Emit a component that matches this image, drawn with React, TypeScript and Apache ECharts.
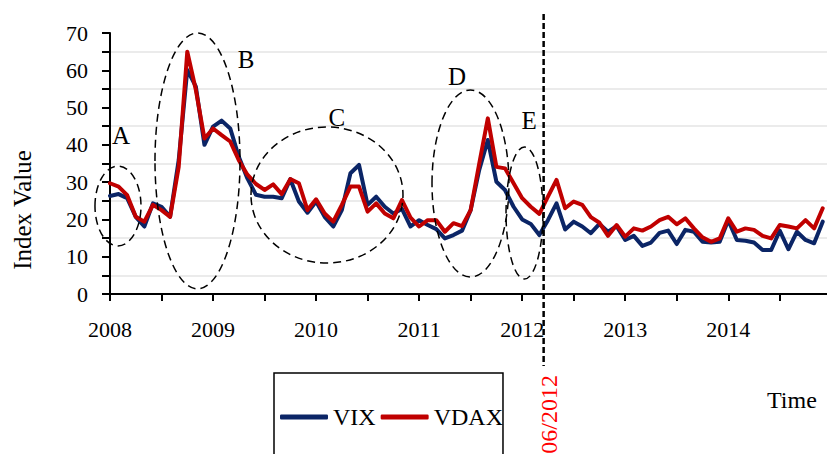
import React, { useEffect, useRef } from "react";
import * as echarts from "echarts";

// Monthly values, Jan 2008 .. Dec 2014 (84 months)
const yearLabels = ["2008", "2009", "2010", "2011", "2012", "2013", "2014"];
const seriesNames = ["VIX", "VDAX"];

const vix = [
  26.3, 26.8, 25.7, 20.7, 18.1, 24.3, 23.4, 20.7, 35.9, 60.1, 55.6, 40.0,
  44.9, 46.5, 44.4, 36.8, 31.0, 26.6, 26.1, 26.1, 25.7, 30.8, 24.8, 21.8,
  24.8, 20.7, 18.1, 22.5, 32.4, 34.6, 23.9, 26.1, 23.4, 21.6, 22.8, 18.1,
  19.8, 18.5, 17.4, 14.9, 15.8, 17.0, 22.5, 33.3, 41.3, 30.1, 27.9, 23.4,
  20.0, 18.8, 15.8, 19.8, 24.3, 17.3, 19.4, 18.1, 16.3, 18.8, 16.7, 18.2,
  14.5, 15.6, 12.9, 13.8, 16.4, 17.0, 13.4, 17.2, 16.7, 14.0, 13.8, 14.0,
  19.8, 14.5, 14.3, 13.8, 11.8, 11.8, 17.0, 12.0, 16.7, 14.5, 13.6, 19.4,
];

const vdax = [
  29.7, 28.8, 26.5, 20.7, 19.4, 23.9, 22.5, 20.7, 34.1, 65.0, 54.7, 41.7,
  44.4, 42.6, 40.9, 35.9, 32.0, 29.5, 27.9, 29.4, 26.8, 30.8, 29.7, 22.5,
  25.4, 21.6, 19.4, 23.9, 28.8, 28.8, 22.1, 24.3, 21.6, 20.3, 25.2, 20.5,
  18.1, 19.8, 19.8, 16.7, 19.0, 18.2, 22.5, 35.0, 47.1, 34.1, 33.7, 29.7,
  25.7, 23.4, 21.5, 26.1, 30.6, 23.0, 24.8, 23.9, 20.6, 19.1, 15.6, 18.5,
  15.4, 17.6, 17.0, 18.1, 19.8, 20.7, 18.7, 20.3, 17.6, 15.2, 14.0, 14.9,
  20.3, 16.7, 17.6, 17.2, 15.6, 14.9, 18.5, 18.1, 17.6, 19.8, 17.6, 23.0,
];

// Annotation ellipses in data coordinates
const ellipseLabels = ["A", "B", "C", "D", "E"];
const ellipseCenterMonth = [0.93, 10.19, 25.27, 41.98, 48.27];
const ellipseCenterValue = [23.6, 35.7, 26.55, 29.64, 21.72];
const ellipseHalfMonths = [2.68, 4.95, 8.85, 4.48, 2.15];
const ellipseHalfValue = [10.7, 34.3, 18.24, 25.08, 17.7];
const labelMonth = [1.28, 15.84, 26.43, 40.41, 48.8];
const labelValue = [42.6, 63.0, 47.47, 58.2, 46.4];

const breakMonth = 50.5;
const breakLabel = "06/2012";

const FONT = "Liberation Serif";
const BLUE = "#0b2566";
const RED = "#c00000";

export default function App() {
  const ref = useRef<HTMLDivElement>(null);

  useEffect(() => {
    if (!ref.current) return;
    const chart = echarts.init(ref.current, undefined, { renderer: "svg" });
    chart.setOption({
      animation: false,
      backgroundColor: "#ffffff",
      textStyle: { fontFamily: FONT },
      grid: { left: 110, right: 0, top: 33, bottom: 160 },
      legend: {
        data: seriesNames,
        left: 274,
        top: 373,
        orient: "horizontal",
        icon: "roundRect",
        itemWidth: 48,
        itemHeight: 5,
        itemGap: 5,
        borderColor: "#000",
        borderWidth: 1.5,
        borderRadius: 0,
        padding: [32, 0, 60, 6],
        textStyle: { fontSize: 24, fontFamily: FONT, color: "#000", lineHeight: 24 },
      },
      xAxis: {
        type: "value",
        min: 0,
        max: 83.5,
        interval: 6,
        axisLine: { show: true, lineStyle: { color: "#000", width: 2 } },
        axisTick: { show: true, length: 7, lineStyle: { color: "#000", width: 2 } },
        splitLine: { show: false },
        axisLabel: {
          margin: 24,
          fontSize: 22,
          fontFamily: FONT,
          color: "#000",
          showMaxLabel: false,
          formatter: (v: number) => (v % 12 === 0 ? yearLabels[v / 12] ?? "" : ""),
        },
      },
      yAxis: {
        type: "value",
        min: 0,
        max: 70,
        interval: 10,
        axisLine: { show: true, lineStyle: { color: "#000", width: 2 } },
        axisTick: { show: true, length: 8, lineStyle: { color: "#000", width: 2 } },
        minorTick: { show: true, splitNumber: 2, length: 8, lineStyle: { color: "#000", width: 2 } },
        splitLine: { show: false },
        minorSplitLine: { show: true, lineStyle: { color: "#e4e4e4", width: 1.5 } },
        axisLabel: { margin: 22, fontSize: 22, fontFamily: FONT, color: "#000" },
      },
      series: [
        {
          name: "VIX",
          type: "line",
          data: vix.map((v, i) => [i, v]),
          showSymbol: false,
          symbol: "none",
          color: BLUE,
          lineStyle: { color: BLUE, width: 4, join: "round", cap: "round" },
          z: 2,
        },
        {
          name: "VDAX",
          type: "line",
          data: vdax.map((v, i) => [i, v]),
          showSymbol: false,
          symbol: "none",
          color: RED,
          lineStyle: { color: RED, width: 4, join: "round", cap: "round" },
          z: 3,
        },
      ],
    });

    const px = (m: number, v: number) =>
      chart.convertToPixel({ xAxisIndex: 0, yAxisIndex: 0 }, [m, v]) as number[];

    const graphics: any[] = [];
    ellipseLabels.forEach((lab, i) => {
      const c = px(ellipseCenterMonth[i], ellipseCenterValue[i]);
      const e = px(ellipseCenterMonth[i] + ellipseHalfMonths[i], ellipseCenterValue[i] + ellipseHalfValue[i]);
      graphics.push({
        type: "ellipse",
        shape: { cx: c[0], cy: c[1], rx: Math.abs(e[0] - c[0]), ry: Math.abs(c[1] - e[1]) },
        style: { fill: "none", stroke: "#000", lineWidth: 1.5, lineDash: [8, 5] },
        z: 10,
        silent: true,
      });
      const l = px(labelMonth[i], labelValue[i]);
      graphics.push({
        type: "text",
        x: l[0],
        y: l[1],
        style: {
          text: lab,
          fontSize: 25,
          fontFamily: FONT,
          fill: "#000",
          align: "center",
          verticalAlign: "middle",
        },
        z: 10,
      });
    });

    const bx = px(breakMonth, 0)[0];
    graphics.push({
      type: "line",
      shape: { x1: bx, y1: 14, x2: bx, y2: 366 },
      style: { stroke: "#000", lineWidth: 2.5, lineDash: [6, 3] },
      z: 11,
    });
    graphics.push({
      type: "text",
      x: bx + 5,
      y: 375,
      rotation: Math.PI / 2,
      style: {
        text: breakLabel,
        fontSize: 24,
        fontFamily: FONT,
        fill: "#ff0000",
        align: "right",
        verticalAlign: "middle",
      },
      z: 11,
    });
    graphics.push({
      type: "text",
      x: 22,
      y: 210,
      rotation: Math.PI / 2,
      style: {
        text: "Index Value",
        fontSize: 25,
        fontFamily: FONT,
        fill: "#000",
        align: "center",
        verticalAlign: "middle",
      },
    });
    graphics.push({
      type: "text",
      x: 767,
      y: 400,
      style: {
        text: "Time",
        fontSize: 24,
        fontFamily: FONT,
        fill: "#000",
        align: "left",
        verticalAlign: "middle",
      },
    });
    chart.setOption({ graphic: graphics });

    return () => chart.dispose();
  }, []);

  return <div ref={ref} style={{ width: 827, height: 454, position: "absolute", left: 0, top: 0 }} />;
}
